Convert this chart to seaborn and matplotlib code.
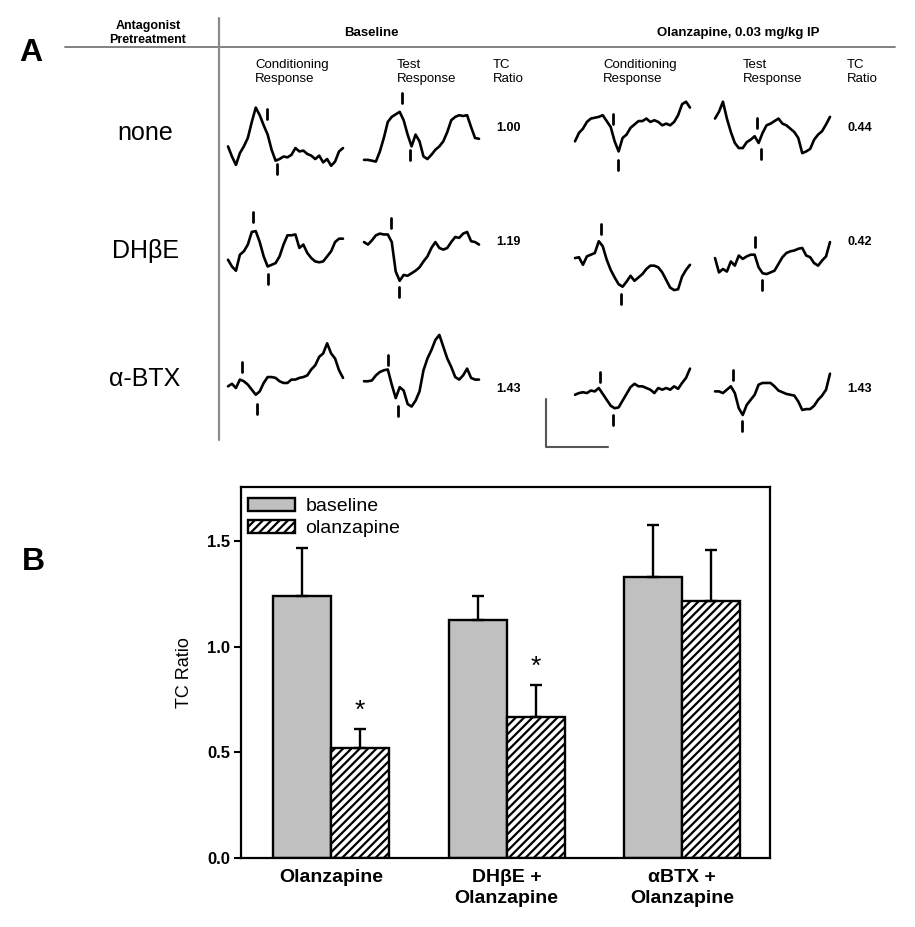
import numpy as np
import pandas as pd
import seaborn as sns
import matplotlib.pyplot as plt

sns.set_style('white')
plt.rcParams['font.family'] = ['Liberation Sans', 'DejaVu Sans']
plt.rcParams['hatch.linewidth'] = 1.6
for key in ['text.color', 'axes.labelcolor', 'xtick.color', 'ytick.color']:
    plt.rcParams[key] = 'black'

# ---- panel B data ----
groups = ['Olanzapine', 'DHβE +\nOlanzapine', 'αBTX +\nOlanzapine']
conditions = ['baseline', 'olanzapine']
baseline_mean = [1.24, 1.13, 1.33]
baseline_sem = [0.23, 0.11, 0.25]
olanzapine_mean = [0.52, 0.67, 1.22]
olanzapine_sem = [0.09, 0.15, 0.24]
significant = [True, True, False]

# ---- panel A data ----
pretreatments = ['none', 'DHβE', 'α-BTX']
tc_baseline = [1.00, 1.19, 1.43]
tc_olanzapine = [0.44, 0.42, 1.43]

# traces (arbitrary amplitude units, up = positive)
none_base_cr = [26, 14, 4, 18, 26, 36, 55, 72, 63, 51, 40, 22, 9, 11, 14, 13, 16, 24, 20, 21, 17, 15, 11, 15, 7, 11, 3, 8, 20, 24]
none_base_tr = [10, 10, 9, 8, 20, 36, 55, 61, 64, 67, 57, 40, 26, 40, 32, 14, 11, 16, 22, 26, 32, 43, 57, 61, 63, 62, 63, 49, 36, 35]
none_olz_cr = [32, 42, 47, 55, 59, 60, 61, 63, 56, 49, 32, 20, 36, 40, 48, 52, 56, 56, 59, 55, 57, 55, 51, 53, 51, 55, 63, 76, 79, 72]
none_olz_tr = [59, 67, 79, 59, 43, 30, 24, 24, 31, 34, 38, 30, 42, 51, 53, 56, 59, 53, 51, 47, 43, 36, 18, 20, 23, 34, 40, 44, 52, 61]
dhbe_base_cr = [22, 14, 9, 28, 32, 40, 55, 56, 43, 26, 14, 16, 18, 26, 40, 51, 51, 52, 36, 40, 30, 24, 20, 19, 20, 26, 32, 43, 47, 47]
dhbe_base_tr = [43, 40, 45, 51, 53, 52, 52, 43, 8, -3, 4, 3, 6, 9, 13, 20, 26, 36, 43, 36, 34, 36, 43, 49, 48, 53, 55, 44, 43, 40]
dhbe_olz_cr = [24, 25, 16, 26, 28, 30, 44, 38, 22, 10, 1, -7, -10, -4, 3, -3, 1, 5, 11, 15, 15, 13, 7, -2, -11, -14, -13, 2, 10, 16]
dhbe_olz_tr = [24, 7, 11, 8, 20, 15, 27, 23, 26, 28, 28, 13, 6, 5, 7, 9, 17, 25, 30, 32, 33, 35, 36, 27, 25, 18, 15, 21, 26, 43]
btx_base_cr = [32, 35, 30, 40, 38, 34, 28, 22, 26, 36, 43, 43, 42, 38, 36, 36, 40, 40, 42, 43, 45, 52, 57, 67, 71, 83, 71, 65, 51, 42]
btx_base_tr = [38, 38, 39, 45, 49, 51, 52, 34, 18, 31, 27, 11, 8, 15, 26, 51, 65, 75, 87, 93, 79, 65, 55, 43, 40, 45, 53, 42, 40, 40]
btx_olz_cr = [22, 24, 25, 24, 27, 26, 30, 23, 16, 9, 6, 7, 15, 23, 31, 35, 32, 32, 30, 28, 24, 30, 28, 30, 28, 32, 29, 36, 42, 53]
btx_olz_tr = [26, 26, 24, 28, 32, 24, 6, -2, 10, 16, 22, 34, 36, 36, 36, 32, 27, 25, 23, 22, 21, 14, 4, 5, 5, 9, 16, 21, 28, 47]

trace_rows = [
    [none_base_cr, none_base_tr, none_olz_cr, none_olz_tr],
    [dhbe_base_cr, dhbe_base_tr, dhbe_olz_cr, dhbe_olz_tr],
    [btx_base_cr, btx_base_tr, btx_olz_cr, btx_olz_tr],
]
# latency markers: (fraction along trace, level) for upper and lower mark
peak_marks = [
    [(0.341, 65, 0.428, -1), (0.328, 83, 0.397, 16), (0.328, 59, 0.376, 4), (0.369, 54, 0.397, 17)],
    [(0.214, 73, 0.345, -1), (0.234, 66, 0.303, -16), (0.224, 59, 0.403, -24), (0.352, 43, 0.407, -8)],
    [(0.121, 55, 0.248, 5), (0.207, 63, 0.293, 3), (0.214, 43, 0.334, -8), (0.155, 45, 0.231, -15)],
]

fig = plt.figure(figsize=(9.15, 9.27), dpi=100)

# ---- panel A (pixel coordinates) ----
ax_a = fig.add_axes([0, 0, 1, 1])
trace_x0 = [228, 364, 575, 715]
trace_w = 115
row_base = [168.3, 278.3, 413.3]
amp = 0.843

for r, row in enumerate(trace_rows):
    for c, vals in enumerate(row):
        vals = np.asarray(vals, dtype=float)
        t = np.linspace(0, 1, len(vals))
        sns.lineplot(x=trace_x0[c] + trace_w * t, y=row_base[r] - amp * vals,
                     ax=ax_a, color='black', lw=1.9, sort=False, estimator=None)
        fu, vu, fd, vd = peak_marks[r][c]
        for f, v in [(fu, vu), (fd, vd)]:
            x = trace_x0[c] + trace_w * f
            y = row_base[r] - amp * v
            ax_a.plot([x, x], [y - 5, y + 5], color='black', lw=2)

ax_a.plot([65, 895], [47, 47], color='#777777', lw=1.3)
ax_a.plot([219, 219], [18, 440], color='#8a8a8a', lw=1.6)
ax_a.plot([546, 546, 608], [399, 447, 447], color='#555555', lw=1.5)

ax_a.text(31, 53, 'A', fontsize=23, fontweight='bold', ha='center', va='center')
ax_a.text(33, 562, 'B', fontsize=23, fontweight='bold', ha='center', va='center')
ax_a.text(148, 33, 'Antagonist\nPretreatment', fontsize=9, fontweight='bold',
          ha='center', va='center', linespacing=1.15)
ax_a.text(371, 33, 'Baseline', fontsize=9.5, fontweight='bold', ha='center', va='center')
ax_a.text(738, 33, 'Olanzapine, 0.03 mg/kg IP', fontsize=9.5, fontweight='bold',
          ha='center', va='center')
headers = ['Conditioning\nResponse', 'Test\nResponse', 'TC\nRatio']
for x, h in zip([255, 397, 493, 603, 743, 847], headers * 2):
    ax_a.text(x, 72, h, fontsize=9.5, ha='left', va='center', linespacing=1.3)

for i, name in enumerate(pretreatments):
    ax_a.text(145, [133, 251, 379][i], name, fontsize=18, ha='center', va='center')
    ty = [128, 242, 389][i]
    ax_a.text(496, ty, f'{tc_baseline[i]:.2f}', fontsize=9, fontweight='bold', va='center')
    ax_a.text(847, ty, f'{tc_olanzapine[i]:.2f}', fontsize=9, fontweight='bold', va='center')

ax_a.set_xlim(0, 915)
ax_a.set_ylim(927, 0)
ax_a.axis('off')

# ---- panel B ----
df = pd.DataFrame({
    'group': groups * 2,
    'condition': [conditions[0]] * 3 + [conditions[1]] * 3,
    'ratio': baseline_mean + olanzapine_mean,
})
ax_b = fig.add_axes([241 / 915, 1 - 858 / 927, 529 / 915, 371 / 927])
sns.barplot(data=df, x='group', y='ratio', hue='condition', palette=['#c0c0c0', 'white'],
            width=0.66, edgecolor='black', linewidth=1.7, errorbar=None, ax=ax_b)
for bar in ax_b.containers[1]:
    bar.set_hatch('////')

for cont, means, sems in zip(ax_b.containers, [baseline_mean, olanzapine_mean],
                             [baseline_sem, olanzapine_sem]):
    xs = [b.get_x() + b.get_width() / 2 for b in cont]
    ax_b.errorbar(xs, means, yerr=[np.zeros(len(sems)), sems], fmt='none', ecolor='black',
                  elinewidth=1.7, capsize=4.5, capthick=1.7, zorder=1)

hatched = ax_b.containers[1]
for b, m, s, sig in zip(hatched, olanzapine_mean, olanzapine_sem, significant):
    if sig:
        ax_b.text(b.get_x() + b.get_width() / 2, m + s + 0.085, '*', ha='center',
                  va='center', fontsize=19)

ax_b.legend([ax_b.containers[0][0], ax_b.containers[1][0]], conditions, loc='upper left',
            bbox_to_anchor=(0.002, 0.985), frameon=False, fontsize=14, handlelength=2.4,
            handleheight=0.6, handletextpad=0.55, borderaxespad=0, borderpad=0.3,
            labelspacing=0.25)

ax_b.set_xlim(-0.513, 2.5)
ax_b.set_ylim(0, 1.758)
ax_b.set_yticks([0, 0.5, 1.0, 1.5])
ax_b.set_yticklabels(['0.0', '0.5', '1.0', '1.5'], fontsize=12, fontweight='bold')
ax_b.set_xticks([0, 1, 2])
ax_b.set_xticklabels(groups, fontsize=14, fontweight='bold')
for lab in ax_b.get_xticklabels():
    lab.set_linespacing(1.3)
ax_b.tick_params(axis='x', length=0, pad=8)
ax_b.tick_params(axis='y', left=True, length=5, width=1.5, pad=3)
ax_b.set_xlabel('')
ax_b.set_ylabel('TC Ratio', fontsize=13)
ax_b.yaxis.set_label_coords(-0.09, 0.5)
for sp in ax_b.spines.values():
    sp.set_color('black')
    sp.set_linewidth(1.6)

fig.savefig('out.png', dpi=100)
